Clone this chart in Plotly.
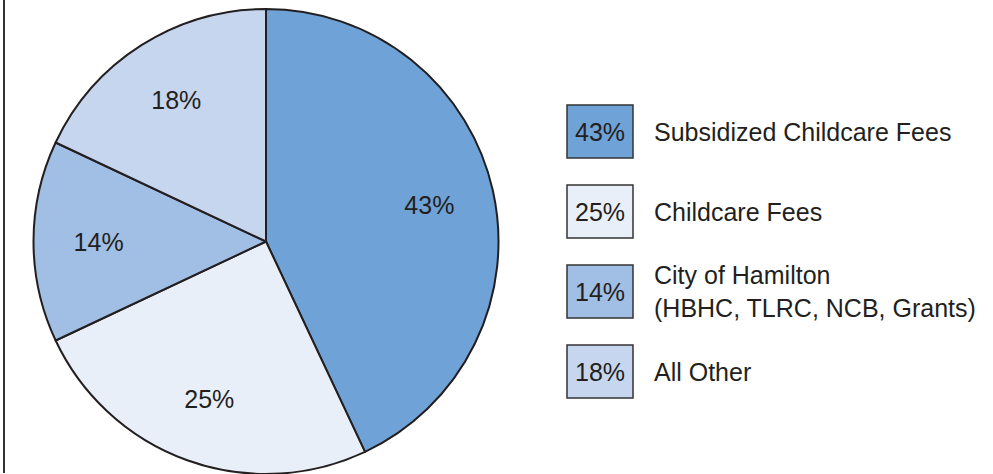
import plotly.graph_objects as go

categories = ["Subsidized Childcare Fees", "Childcare Fees",
              "City of Hamilton<br>(HBHC, TLRC, NCB, Grants)", "All Other"]
values = [43, 25, 14, 18]
colors = ["#6fa2d6", "#e9eff8", "#a1bee4", "#c6d6ee"]

W, H = 993, 474
FONT = "Liberation Sans, Arial, sans-serif"
DARK = "#231f20"
FS = 25
DOMAIN = dict(x=[33 / W, 499 / W], y=[0.0, 0.981])

fig = go.Figure()
# filled slices
fig.add_trace(go.Pie(
    labels=categories,
    values=values,
    sort=False,
    direction="clockwise",
    rotation=0,
    marker=dict(colors=colors, line=dict(color=DARK, width=2)),
    textinfo="none",
    domain=DOMAIN,
    showlegend=False,
    hoverinfo="label+percent",
))
# transparent ring overlay used to place the percentage labels further out
fig.add_trace(go.Pie(
    labels=categories,
    values=values,
    sort=False,
    direction="clockwise",
    rotation=0,
    hole=0.44,
    marker=dict(colors=["rgba(0,0,0,0)"] * len(values), line=dict(width=0)),
    texttemplate="%{value}%",
    textposition="inside",
    insidetextorientation="horizontal",
    textfont=dict(family=FONT, size=FS, color=DARK),
    domain=DOMAIN,
    showlegend=False,
    hoverinfo="skip",
))

shapes = []
annotations = []
# left frame line
shapes.append(dict(type="line", xref="paper", yref="paper",
                   x0=4 / W, x1=4 / W, y0=(H - 473) / H, y1=1,
                   line=dict(color="#333333", width=2)))

box_x0, box_x1 = 567, 633
row_centers = [131.5, 211.5, 291.5, 371.5]
box_h = 53
for i, (cat, val, col) in enumerate(zip(categories, values, colors)):
    cy = row_centers[i]
    shapes.append(dict(type="rect", xref="paper", yref="paper",
                       x0=box_x0 / W, x1=box_x1 / W,
                       y0=(H - (cy + box_h / 2)) / H, y1=(H - (cy - box_h / 2)) / H,
                       fillcolor=col, line=dict(color="#333333", width=1.5)))
    annotations.append(dict(xref="paper", yref="paper",
                            x=(box_x0 + box_x1) / 2 / W, y=(H - cy) / H,
                            text=f"{val}%", showarrow=False,
                            xanchor="center", yanchor="middle",
                            font=dict(family=FONT, size=FS, color=DARK)))
    annotations.append(dict(xref="paper", yref="paper",
                            x=652 / W, y=(H - cy) / H,
                            text=cat, showarrow=False, align="left",
                            xanchor="left", yanchor="middle",
                            font=dict(family=FONT, size=FS, color=DARK)))

fig.update_layout(
    width=W, height=H,
    margin=dict(l=0, r=0, t=0, b=0),
    paper_bgcolor="white",
    plot_bgcolor="white",
    shapes=shapes,
    annotations=annotations,
)

fig.write_html("out.html", config={"displayModeBar": False},
               post_script="document.body.style.margin='0';document.body.style.overflow='hidden';")
